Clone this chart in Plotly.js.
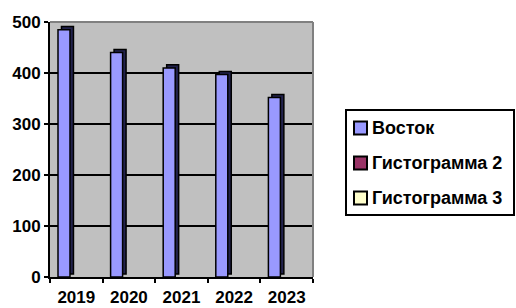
<!DOCTYPE html>
<html>
<head>
<meta charset="utf-8">
<script src="https://cdn.plot.ly/plotly-3.0.1.min.js"></script>
<style>html,body{margin:0;padding:0;background:#fff;}#chart{width:516px;height:308px;}</style>
</head>
<body>
<div id="chart"></div>
<script>
const categories = ['2019', '2020', '2021', '2022', '2023'];
const seriesNames = ['Восток', 'Гистограмма 2', 'Гистограмма 3'];
const seriesColors = ['#9999ff', '#993366', '#ffffcc'];
const vostok = [485, 440, 410, 397, 352];
const series2 = [null, null, null, null, null];
const series3 = [null, null, null, null, null];
const yTicks = [0, 100, 200, 300, 400, 500];

const FONT = '"Liberation Sans", Arial, sans-serif';

// plot area in pixels (for converting legend placement to paper coords)
const PL = 50, PR = 313, PT = 22, PB = 277;
const px = v => (v - PL) / (PR - PL);
const py = v => (PB - v) / (PB - PT);
const BAR_W = 0.228;          // bar width as fraction of a category
const FIRST_OFF = -0.348;     // left edge of first bar in the cluster
const DEPTH_X = 0.066;        // pseudo-3D side shift (category units)
const DEPTH_Y = 6;            // pseudo-3D top shift (value units)

function barTrace(name, values, color, idx) {
  return {
    type: 'bar', name: name, x: categories, y: values,
    width: BAR_W, offset: FIRST_OFF + idx * BAR_W,
    marker: {color: color, line: {color: '#000', width: 1.5}},
    showlegend: false, hoverinfo: 'skip'
  };
}

// dark side of the pseudo-3D bars, drawn behind the front faces
const sideTrace = {
  type: 'bar', name: seriesNames[0] + ' side', x: categories, y: vostok,
  base: DEPTH_Y, width: BAR_W, offset: FIRST_OFF + DEPTH_X,
  marker: {color: '#22224d', line: {color: '#000', width: 1.5}},
  showlegend: false, hoverinfo: 'skip'
};

const data = [sideTrace].concat(seriesNames.map((n, i) =>
  barTrace(n, [vostok, series2, series3][i], seriesColors[i], i)));

const shapes = [
  {type: 'line', xref: 'paper', yref: 'paper', x0: 0, x1: 1, y0: 1, y1: 1,
   line: {color: '#808080', width: 2}},
  {type: 'line', xref: 'paper', yref: 'paper', x0: 1, x1: 1, y0: 0, y1: 1,
   line: {color: '#808080', width: 2}},
  // legend box
  {type: 'rect', xref: 'paper', yref: 'paper', x0: px(346), x1: px(514), y0: py(110), y1: py(215),
   fillcolor: '#fff', line: {color: '#000', width: 2}}
];
const annotations = [];
const rowY = [128, 163, 198];
seriesNames.forEach((n, i) => {
  shapes.push({type: 'rect', xref: 'paper', yref: 'paper',
    x0: px(354), x1: px(367), y0: py(rowY[i] + 6.5), y1: py(rowY[i] - 6.5),
    fillcolor: seriesColors[i], line: {color: '#000', width: 2}});
  annotations.push({xref: 'paper', yref: 'paper', x: px(370), y: py(rowY[i]),
    xanchor: 'left', yanchor: 'middle', showarrow: false, text: '<b>' + n + '</b>',
    font: {family: FONT, size: 18, color: '#000'}});
});

const layout = {
  width: 516, height: 308,
  margin: {l: PL, r: 516 - PR, t: PT, b: 308 - PB, pad: 0},
  paper_bgcolor: '#ffffff',
  plot_bgcolor: '#c0c0c0',
  barmode: 'overlay',
  font: {family: FONT, color: '#000', size: 14},
  showlegend: false,
  xaxis: {
    type: 'category', showgrid: false, zeroline: false,
    showline: true, linecolor: '#000', linewidth: 2,
    ticks: 'outside', tickson: 'boundaries', ticklen: 4, tickwidth: 2, tickcolor: '#000',
    ticklabelstandoff: 4,
    tickfont: {family: FONT, size: 17, color: '#000', weight: 'bold'},
    fixedrange: true
  },
  yaxis: {
    range: [0, 500], tickvals: yTicks, ticktext: yTicks.map(String),
    showgrid: true, gridcolor: '#000', gridwidth: 2, zeroline: false,
    showline: true, linecolor: '#000', linewidth: 2,
    ticks: 'outside', ticklen: 4, tickwidth: 2, tickcolor: '#000',
    tickfont: {family: FONT, size: 17, color: '#000', weight: 'bold'},
    fixedrange: true
  },
  shapes: shapes,
  annotations: annotations
};

Plotly.newPlot('chart', data, layout, {displayModeBar: false, staticPlot: true});
</script>
</body>
</html>
